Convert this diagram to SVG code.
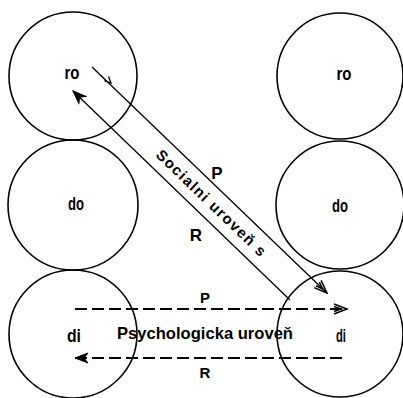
<svg xmlns="http://www.w3.org/2000/svg" width="403" height="398" viewBox="0 0 403 398">
<style>
.c{fill:none;stroke:#000;stroke-width:1.6}
.l{fill:none;stroke:#000;stroke-width:1.3}
.d{fill:none;stroke:#000;stroke-width:1.8;stroke-dasharray:12 5}
.t{font-family:"Liberation Sans","DejaVu Sans",sans-serif;font-weight:bold;fill:#000;text-anchor:middle}
.n{font-size:18px}
.lab{font-size:17px}
</style>
<defs>
<marker id="open" markerWidth="16" markerHeight="12" viewBox="-14 -6 16 12" refX="0" refY="0" orient="auto" markerUnits="userSpaceOnUse">
<path d="M-13,-5 L0,0 L-13,5 M-13,-2.5 L-6,0 L-13,2.5" fill="none" stroke="#000" stroke-width="1.5"/>
</marker>
<marker id="solid" markerWidth="16" markerHeight="12" viewBox="-14 -6 16 12" refX="0" refY="0" orient="auto-start-reverse" markerUnits="userSpaceOnUse">
<path d="M-13,-5 L0,0 L-13,5 L-9,0 Z" fill="#000" stroke="#000" stroke-width="1"/>
</marker>
</defs>
<g id="node-ro-left"><circle class="c" cx="73" cy="76" r="64"/><text class="t n" x="72" y="79" textLength="15" lengthAdjust="spacingAndGlyphs">ro</text></g>
<g id="node-do-left"><circle class="c" cx="73" cy="205" r="65"/><text class="t n" x="76" y="210" textLength="16" lengthAdjust="spacingAndGlyphs">do</text></g>
<g id="node-di-left"><circle class="c" cx="73" cy="334" r="64"/><text class="t n" x="74" y="342" textLength="14" lengthAdjust="spacingAndGlyphs">di</text></g>
<g id="node-ro-right"><circle class="c" cx="340" cy="76" r="63"/><text class="t n" x="344" y="80" textLength="15" lengthAdjust="spacingAndGlyphs">ro</text></g>
<g id="node-do-right"><circle class="c" cx="340" cy="205" r="64"/><text class="t n" x="340" y="212" textLength="16" lengthAdjust="spacingAndGlyphs">do</text></g>
<g id="node-di-right"><circle class="c" cx="340" cy="334" r="63"/><text class="t n" x="341" y="342" textLength="10" lengthAdjust="spacingAndGlyphs">di</text></g>
<g id="connectors">
<line class="l" x1="92" y1="67" x2="327" y2="293" marker-end="url(#open)"/>
<path class="l" d="M108.5,76.5 L111,83 L104.4,80.7"/>
<line class="l" x1="73" y1="91" x2="290" y2="300" marker-start="url(#solid)"/>
<line class="d" x1="75" y1="309" x2="347" y2="309" marker-end="url(#open)"/>
<line class="d" x1="75" y1="358" x2="343" y2="358" marker-start="url(#solid)"/>
</g>
<g id="labels">
<text class="t" font-size="15" transform="translate(211,203) rotate(44)" y="5" textLength="146" lengthAdjust="spacing">Socialni uroveň s</text>
<text class="t lab" x="217" y="179">P</text>
<text class="t lab" x="196" y="241">R</text>
<text class="t" font-size="17" x="205" y="339" textLength="176" lengthAdjust="spacingAndGlyphs">Psychologicka uroveň</text>
<text class="t" font-size="15" x="205" y="303">P</text>
<text class="t" font-size="15" x="205" y="378">R</text>
</g>
</svg>
